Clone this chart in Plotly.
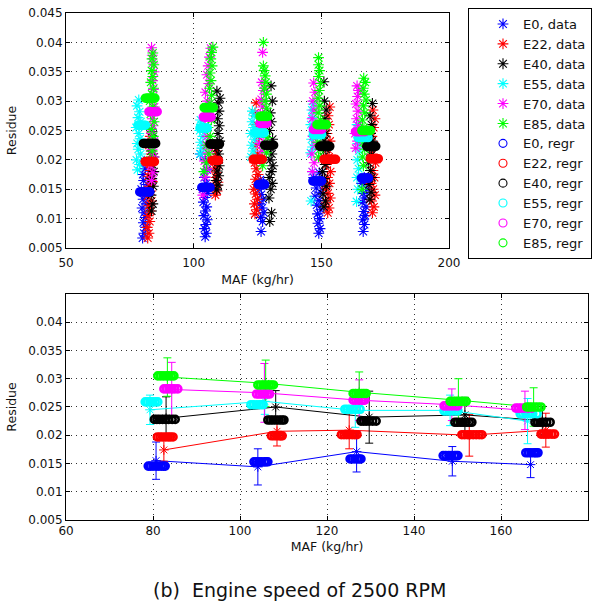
import plotly.graph_objects as go

# ---------------- data ----------------
fuels = ["E0", "E22", "E40", "E55", "E70", "E85"]
colors = ["#0000ff", "#ff0000", "#000000", "#00ffff", "#ff00ff", "#00ff00"]

# top panel: measured residues (asterisks), grouped by MAF operating point
E0_data_maf = [80.0, 80.5, 81.2, 80.3, 81.0, 80.6, 79.8, 81.4, 80.2, 80.9, 79.5, 81.8, 80.4, 80.1, 81.0, 80.6,
               104.5, 105.0, 104.2, 104.8, 105.3, 104.0, 104.6, 105.1, 103.8, 104.4, 105.5, 103.5, 104.9, 104.2, 105.2, 104.6, 102.6,
               126.4, 127.0, 126.2, 127.5, 126.8, 125.9, 127.2, 126.5, 125.6, 127.4, 126.1,
               149.0, 149.5, 148.7, 149.3, 148.5, 149.8, 148.2, 149.1, 147.5, 149.6, 148.0, 150.5, 147.0, 149.2,
               166.4, 166.9, 166.2, 167.2, 166.6, 167.5, 166.0, 167.0, 166.4, 167.8, 165.8, 166.8]
E0_data_res = [0.0067, 0.0075, 0.0085, 0.0093, 0.0102, 0.0110, 0.0118, 0.0125, 0.0133, 0.0140, 0.0150, 0.0158, 0.0165, 0.0175, 0.0185, 0.0198,
               0.0069, 0.0075, 0.0083, 0.0090, 0.0098, 0.0105, 0.0113, 0.0120, 0.0128, 0.0136, 0.0143, 0.0150, 0.0160, 0.0170, 0.0183, 0.0200, 0.0210,
               0.0078, 0.0095, 0.0102, 0.0110, 0.0118, 0.0125, 0.0133, 0.0141, 0.0150, 0.0160, 0.0166,
               0.0075, 0.0083, 0.0092, 0.0100, 0.0108, 0.0115, 0.0123, 0.0131, 0.0138, 0.0145, 0.0152, 0.0160, 0.0170, 0.0178,
               0.0078, 0.0090, 0.0098, 0.0105, 0.0112, 0.0120, 0.0128, 0.0135, 0.0143, 0.0150, 0.0160, 0.0170]

E22_data_maf = [82.0, 82.5, 81.8, 82.8, 82.2, 83.0, 82.4, 83.5, 82.0, 83.2, 82.6, 83.8, 82.3, 83.0, 82.7, 83.4, 82.5, 83.0,
                108.5, 109.2, 108.0, 109.5, 108.7, 109.0, 108.3, 109.3, 108.6, 109.0, 108.2,
                124.0, 124.6, 123.8, 125.0, 124.3, 123.5, 124.8, 124.2, 125.2, 124.5, 123.9, 125.0, 124.4, 125.3, 124.7, 124.0, 124.5,
                152.5, 153.0, 152.0, 153.5, 152.6, 151.8, 153.2, 152.4, 153.6, 152.0, 153.0, 152.5, 153.4, 152.2, 153.0, 152.6, 153.3,
                170.0, 170.6, 169.7, 171.0, 170.3, 169.5, 170.8, 170.2, 171.2, 170.0, 170.7, 169.8, 170.5, 171.0, 170.2]
E22_data_res = [0.0067, 0.0075, 0.0085, 0.0095, 0.0105, 0.0113, 0.0122, 0.0130, 0.0138, 0.0147, 0.0155, 0.0163, 0.0172, 0.0182, 0.0192, 0.0210, 0.0225, 0.0240,
                0.0140, 0.0147, 0.0155, 0.0162, 0.0170, 0.0178, 0.0186, 0.0194, 0.0205, 0.0215, 0.0222,
                0.0108, 0.0115, 0.0125, 0.0133, 0.0142, 0.0150, 0.0158, 0.0167, 0.0175, 0.0185, 0.0195, 0.0210, 0.0225, 0.0240, 0.0260, 0.0280, 0.0297,
                0.0110, 0.0118, 0.0127, 0.0135, 0.0143, 0.0152, 0.0160, 0.0170, 0.0180, 0.0192, 0.0205, 0.0218, 0.0232, 0.0245, 0.0260, 0.0275, 0.0290,
                0.0110, 0.0120, 0.0130, 0.0140, 0.0150, 0.0160, 0.0170, 0.0182, 0.0195, 0.0210, 0.0225, 0.0240, 0.0255, 0.0270, 0.0285]

E40_data_maf = [83.5, 84.0, 83.3, 84.2, 83.6, 84.4, 83.8, 84.5, 83.4, 84.1, 83.7,
                109.0, 109.5, 108.8, 109.8, 109.2, 110.0, 109.4, 109.8, 109.1, 110.2, 109.5, 110.0, 109.3, 109.9, 109.6, 110.3, 109.1,
                129.8, 130.5, 129.5, 130.2, 130.8, 129.6, 130.4, 131.0, 129.9, 130.6, 130.1, 130.9, 129.7, 130.4, 130.0, 130.8, 130.3,
                151.0, 151.6, 150.7, 151.9, 151.2, 150.5, 151.5, 150.9, 151.8, 151.1, 151.7, 150.8, 151.4, 151.9, 151.2, 151.0,
                169.0, 169.5, 168.7, 169.8, 169.2, 168.5, 169.6, 169.0, 169.9, 169.3, 169.7, 169.1, 170.0]
E40_data_res = [0.0113, 0.0125, 0.0140, 0.0155, 0.0168, 0.0180, 0.0192, 0.0205, 0.0215, 0.0235, 0.0248,
                0.0149, 0.0157, 0.0165, 0.0173, 0.0181, 0.0190, 0.0200, 0.0210, 0.0220, 0.0232, 0.0245, 0.0258, 0.0270, 0.0283, 0.0297, 0.0305, 0.0317,
                0.0095, 0.0110, 0.0135, 0.0150, 0.0160, 0.0170, 0.0180, 0.0190, 0.0200, 0.0210, 0.0220, 0.0235, 0.0250, 0.0265, 0.0280, 0.0300, 0.0326,
                0.0120, 0.0130, 0.0142, 0.0155, 0.0168, 0.0180, 0.0192, 0.0205, 0.0218, 0.0232, 0.0245, 0.0258, 0.0270, 0.0285, 0.0300, 0.0333,
                0.0133, 0.0145, 0.0158, 0.0170, 0.0182, 0.0195, 0.0208, 0.0220, 0.0232, 0.0245, 0.0260, 0.0275, 0.0296]

E55_data_maf = [78.0, 78.8, 77.6, 79.2, 78.3, 77.9, 79.0, 78.5, 77.5, 79.3, 78.2, 78.8, 77.8, 78.5,
                102.5, 103.2, 102.8, 103.6, 102.4, 103.0, 102.7,
                122.5, 123.3, 122.8, 123.8, 122.4, 123.5, 122.9, 123.6, 123.0,
                146.0, 146.5, 145.8, 146.6, 146.2, 147.0, 145.9, 146.7, 146.3, 146.8,
                163.8, 164.3, 164.0, 164.6, 164.1, 164.8, 164.3, 165.0, 164.5, 164.0]
E55_data_res = [0.0183, 0.0192, 0.0200, 0.0210, 0.0218, 0.0228, 0.0236, 0.0245, 0.0255, 0.0265, 0.0272, 0.0282, 0.0292, 0.0302,
                0.0210, 0.0220, 0.0230, 0.0240, 0.0250, 0.0260, 0.0268,
                0.0205, 0.0215, 0.0225, 0.0235, 0.0245, 0.0255, 0.0265, 0.0275, 0.0283,
                0.0130, 0.0180, 0.0212, 0.0222, 0.0235, 0.0248, 0.0260, 0.0272, 0.0285, 0.0295,
                0.0129, 0.0150, 0.0170, 0.0185, 0.0200, 0.0215, 0.0228, 0.0240, 0.0252, 0.0260]

E70_data_maf = [83.5, 84.0, 83.2, 84.3, 83.7, 84.5, 83.4, 84.1, 83.8, 84.6, 83.5, 84.2, 83.9, 84.5, 84.0, 83.8, 83.5,
                103.6, 104.5, 105.2, 104.2, 105.6, 104.8, 105.3, 104.4, 105.8, 104.9, 105.4, 104.6, 105.9, 105.2, 105.7, 106.2, 106.7,
                126.0, 126.8, 125.8, 127.2, 126.4, 127.5, 126.1, 127.0, 126.5, 127.3, 126.7, 127.0,
                146.5, 147.2, 146.3, 147.6, 146.8, 147.4, 146.4, 147.1, 146.7, 147.5, 147.0,
                163.5, 164.2, 163.2, 164.5, 163.8, 164.4, 163.6, 164.2, 164.6, 164.0]
E70_data_res = [0.0165, 0.0178, 0.0190, 0.0205, 0.0218, 0.0232, 0.0245, 0.0258, 0.0270, 0.0290, 0.0305, 0.0320, 0.0335, 0.0350, 0.0365, 0.0378, 0.0391,
                0.0140, 0.0171, 0.0185, 0.0198, 0.0212, 0.0225, 0.0240, 0.0255, 0.0270, 0.0285, 0.0300, 0.0315, 0.0330, 0.0345, 0.0360, 0.0375, 0.0390,
                0.0200, 0.0215, 0.0228, 0.0240, 0.0252, 0.0265, 0.0278, 0.0290, 0.0303, 0.0318, 0.0332, 0.0383,
                0.0180, 0.0195, 0.0210, 0.0225, 0.0240, 0.0255, 0.0270, 0.0285, 0.0300, 0.0315, 0.0331,
                0.0220, 0.0232, 0.0245, 0.0258, 0.0270, 0.0283, 0.0295, 0.0308, 0.0318, 0.0326]

E85_data_maf = [83.0, 83.8, 82.6, 84.2, 83.4, 84.5, 83.1, 84.0, 82.8, 83.6, 84.3, 83.2, 84.0, 83.5, 84.4, 83.7, 84.0,
                104.0, 105.0, 106.0, 105.2, 106.5, 105.6, 106.9, 105.8, 106.4, 107.0, 106.2, 106.8, 106.4, 107.2, 106.7, 107.0, 107.5,
                127.0, 128.5, 127.8, 128.8, 127.5, 128.4, 127.9, 128.6, 128.0, 128.5, 127.7, 128.3, 128.0, 127.6, 127.3, 127.3,
                148.9, 149.5, 148.6, 149.8, 149.0, 149.6, 148.8, 149.4, 148.7, 149.2, 149.7, 148.9, 149.3, 148.9, 148.9,
                166.0, 166.5, 166.2, 167.0, 166.4, 167.3, 166.7, 166.1, 167.0, 166.5, 167.5, 166.8, 166.4, 167.2, 166.6]
E85_data_res = [0.0200, 0.0215, 0.0228, 0.0240, 0.0252, 0.0265, 0.0278, 0.0290, 0.0300, 0.0312, 0.0322, 0.0332, 0.0342, 0.0352, 0.0362, 0.0372, 0.0382,
                0.0180, 0.0195, 0.0210, 0.0225, 0.0240, 0.0255, 0.0268, 0.0282, 0.0296, 0.0310, 0.0322, 0.0335, 0.0348, 0.0360, 0.0372, 0.0383, 0.0392,
                0.0190, 0.0212, 0.0225, 0.0238, 0.0250, 0.0262, 0.0275, 0.0288, 0.0300, 0.0312, 0.0322, 0.0332, 0.0343, 0.0352, 0.0360, 0.0400,
                0.0205, 0.0218, 0.0230, 0.0242, 0.0255, 0.0268, 0.0280, 0.0292, 0.0305, 0.0318, 0.0330, 0.0342, 0.0352, 0.0362, 0.0374,
                0.0150, 0.0190, 0.0205, 0.0218, 0.0230, 0.0243, 0.0255, 0.0268, 0.0280, 0.0292, 0.0302, 0.0312, 0.0322, 0.0332, 0.0339]

# regression predictions: MAF values per operating point and the predicted residue level
E0_regr_maf = [[78.9, 79.4, 80.0, 80.7, 81.3, 81.9, 82.4, 82.8], [103.2, 103.7, 104.3, 104.9, 105.6, 106.0, 106.4],
               [125.3, 125.8, 126.4, 127.0, 127.4, 127.8], [146.7, 147.3, 148.0, 148.6, 149.3, 149.7, 150.1],
               [165.7, 166.3, 166.9, 167.6, 168.0, 168.5]]
E0_regr_res = [0.01454, 0.0153, 0.0158, 0.0164, 0.0169]
E22_regr_maf = [[81.0, 81.6, 82.2, 82.9, 83.5, 84.0, 84.6], [107.2, 107.8, 108.4, 109.0, 109.4, 109.7],
                [123.3, 123.9, 124.5, 125.1, 125.8, 126.4, 126.9], [151.0, 151.6, 152.3, 152.9, 153.6, 154.3, 155.0, 155.6],
                [169.2, 169.8, 170.4, 171.0, 171.7, 172.3]]
E22_regr_res = [0.0197, 0.0199, 0.0201, 0.0201, 0.0202]
E40_regr_maf = [[80.3, 80.9, 81.5, 82.2, 82.9, 83.6, 84.4, 85.1], [106.4, 107.0, 107.6, 108.3, 109.0, 109.6, 110.1],
                [127.8, 128.4, 129.0, 129.7, 130.5, 131.3], [149.4, 150.0, 150.7, 151.3, 152.0, 152.7, 153.3],
                [167.8, 168.4, 169.0, 169.7, 170.5, 171.3]]
E40_regr_res = [0.0228, 0.0227, 0.0225, 0.0223, 0.0223]
E55_regr_maf = [[78.2, 78.7, 79.3, 79.9, 80.5, 81.1], [102.5, 103.1, 103.7, 104.4, 104.9, 105.3],
                [124.1, 124.7, 125.3, 126.0, 126.8, 127.6], [146.9, 147.5, 148.1, 148.8, 149.5, 150.1],
                [164.4, 165.0, 165.7, 166.4, 167.3, 168.3]]
E55_regr_res = [0.0259, 0.0254, 0.0246, 0.0243, 0.0238]
E70_regr_maf = [[82.5, 83.1, 83.7, 84.4, 85.0, 85.7], [103.8, 104.4, 105.0, 105.7, 106.3, 106.8],
                [126.0, 126.6, 127.2, 127.9, 128.3, 128.7], [146.9, 147.5, 148.1, 148.8, 149.5, 150.1],
                [163.4, 164.0, 164.6, 165.3, 166.2, 167.1]]
E70_regr_res = [0.0282, 0.0273, 0.0262, 0.0252, 0.0248]
E85_regr_maf = [[81.1, 81.7, 82.3, 83.0, 83.6, 84.2, 84.8], [104.1, 104.7, 105.3, 106.0, 106.7, 107.2, 107.7],
                [126.0, 126.6, 127.2, 127.9, 128.5, 129.0], [148.3, 148.9, 149.5, 150.1, 150.8, 151.4, 152.0],
                [165.9, 166.5, 167.1, 167.8, 168.5, 169.2]]
E85_regr_res = [0.0305, 0.0289, 0.0274, 0.0260, 0.0250]

# bottom panel: mean residue per operating point with standard-deviation bars
E0_mean_maf = [80.7, 104.1, 126.8, 148.8, 166.8]
E0_mean_res = [0.0155, 0.0144, 0.0171, 0.0154, 0.0148]
E0_mean_err = [0.0033, 0.0032, 0.0036, 0.0026, 0.0023]
E22_mean_maf = [82.5, 108.5, 125.1, 152.7, 170.3]
E22_mean_res = [0.0174, 0.0207, 0.0209, 0.0200, 0.0209]
E22_mean_err = [0.0020, 0.0026, 0.0033, 0.0037, 0.0030]
E40_mean_maf = [83.0, 108.2, 129.7, 151.7, 169.5]
E40_mean_res = [0.0230, 0.0250, 0.0232, 0.0236, 0.0226]
E40_mean_err = [0.0038, 0.0029, 0.0046, 0.0031, 0.0025]
E55_mean_maf = [79.3, 105.7, 126.5, 148.3, 166.1]
E55_mean_res = [0.0245, 0.0260, 0.0244, 0.0244, 0.0225]
E55_mean_err = [0.0026, 0.0023, 0.0030, 0.0027, 0.0040]
E70_mean_maf = [84.3, 105.6, 127.4, 148.7, 165.5]
E70_mean_res = [0.0281, 0.0275, 0.0262, 0.0254, 0.0244]
E70_mean_err = [0.0048, 0.0052, 0.0036, 0.0028, 0.0034]
E85_mean_maf = [83.3, 105.9, 127.4, 150.2, 167.5]
E85_mean_res = [0.0303, 0.0292, 0.0276, 0.0262, 0.0250]
E85_mean_err = [0.0034, 0.0041, 0.0036, 0.0038, 0.0034]

res_ticks_top = [0.005, 0.01, 0.015, 0.02, 0.025, 0.03, 0.035, 0.04, 0.045]
res_ticks_top_text = ["0.005", "0.01", "0.015", "0.02", "0.025", "0.03", "0.035", "0.04", "0.045"]
res_ticks_bot = [0.005, 0.01, 0.015, 0.02, 0.025, 0.03, 0.035, 0.04]
res_ticks_bot_text = ["0.005", "0.01", "0.015", "0.02", "0.025", "0.03", "0.035", "0.04"]
maf_ticks_top = [50, 100, 150, 200]
maf_ticks_bot = [60, 80, 100, 120, 140, 160, 180]
caption = "(b)\u00a0\u00a0Engine speed of 2500 RPM"

data_maf = [E0_data_maf, E22_data_maf, E40_data_maf, E55_data_maf, E70_data_maf, E85_data_maf]
data_res = [E0_data_res, E22_data_res, E40_data_res, E55_data_res, E70_data_res, E85_data_res]
regr_maf = [E0_regr_maf, E22_regr_maf, E40_regr_maf, E55_regr_maf, E70_regr_maf, E85_regr_maf]
regr_res = [E0_regr_res, E22_regr_res, E40_regr_res, E55_regr_res, E70_regr_res, E85_regr_res]
mean_maf = [E0_mean_maf, E22_mean_maf, E40_mean_maf, E55_mean_maf, E70_mean_maf, E85_mean_maf]
mean_res = [E0_mean_res, E22_mean_res, E40_mean_res, E55_mean_res, E70_mean_res, E85_mean_res]
mean_err = [E0_mean_err, E22_mean_err, E40_mean_err, E55_mean_err, E70_mean_err, E85_mean_err]


def expand(blobs, levels):
    xs, ys = [], []
    for b, lv in zip(blobs, levels):
        xs += b
        ys += [lv] * len(b)
    return xs, ys


FONT = "DejaVu Sans"
fig = go.Figure()
blob_marker = lambda c: dict(symbol="circle-open", size=7, color=c, line=dict(width=2.6, color=c))

# ---- top panel ----
for f, c, mx, my in zip(fuels, colors, data_maf, data_res):
    fig.add_trace(go.Scatter(
        x=mx, y=my, mode="markers", name=f + ", data", xaxis="x", yaxis="y",
        marker=dict(symbol="asterisk-open", size=9, color=c, line=dict(width=1.1, color=c))))
for f, c, bm, br in zip(fuels, colors, regr_maf, regr_res):
    xs, ys = expand(bm, br)
    fig.add_trace(go.Scatter(
        x=xs, y=ys, mode="markers", showlegend=False, xaxis="x", yaxis="y",
        marker=blob_marker(c)))
# legend entries for the regression series (thin open circles as in the key)
for f, c in zip(fuels, colors):
    fig.add_trace(go.Scatter(
        x=[None], y=[None], mode="markers", name=f + ", regr", xaxis="x", yaxis="y",
        marker=dict(symbol="circle-open", size=8, color=c, line=dict(width=1.1, color=c))))

# ---- bottom panel ----
for f, c, mx, my, me in zip(fuels, colors, mean_maf, mean_res, mean_err):
    fig.add_trace(go.Scatter(
        x=mx, y=my, mode="lines+markers", showlegend=False, xaxis="x2", yaxis="y2",
        line=dict(color=c, width=1),
        marker=dict(symbol="asterisk-open", size=8, color=c, line=dict(width=1, color=c)),
        error_y=dict(type="data", array=me, color=c, thickness=1, width=4)))
for f, c, bm, br in zip(fuels, colors, regr_maf, regr_res):
    xs, ys = expand(bm, br)
    fig.add_trace(go.Scatter(
        x=xs, y=ys, mode="markers", showlegend=False, xaxis="x2", yaxis="y2",
        marker=blob_marker(c)))

axis_common = dict(showline=True, linecolor="black", linewidth=1, mirror="ticks",
                   ticks="inside", ticklen=4, tickcolor="black",
                   showgrid=True, gridcolor="#333333", griddash="1px,4px", gridwidth=1,
                   zeroline=False, automargin=False,
                   tickfont=dict(family=FONT, size=12, color="#111111"))
title_font = dict(family=FONT, size=12.5, color="#111111")

fig.update_layout(
    width=598, height=606,
    margin=dict(l=0, r=0, t=0, b=0),
    paper_bgcolor="white", plot_bgcolor="white",
    font=dict(family=FONT, size=12, color="#111111"),
    xaxis=dict(axis_common, domain=[0.1104, 0.7508], anchor="y", range=[50, 200],
               tickvals=maf_ticks_top, ticklabelstandoff=4,
               title=dict(text="MAF (kg/hr)", font=title_font, standoff=5)),
    yaxis=dict(axis_common, domain=[0.5908, 0.9785], anchor="x", range=[0.005, 0.045],
               tickvals=res_ticks_top, ticktext=res_ticks_top_text,
               title=dict(text="Residue", font=title_font, standoff=8)),
    xaxis2=dict(axis_common, domain=[0.1104, 0.9833], anchor="y2", range=[60, 180],
                tickvals=maf_ticks_bot, title=dict(text="MAF (kg/hr)", font=title_font, standoff=4)),
    yaxis2=dict(axis_common, domain=[0.1419, 0.5149], anchor="x2", range=[0.005, 0.045],
                tickvals=res_ticks_bot, ticktext=res_ticks_bot_text,
                title=dict(text="Residue", font=title_font, standoff=8)),
    legend=dict(x=0.7826, y=0.9868, xanchor="left", yanchor="top",
                bgcolor="white", bordercolor="black", borderwidth=1,
                font=dict(family=FONT, size=13, color="#111111"),
                itemsizing="trace", indentation=14),
    annotations=[dict(text=caption, x=0.5, y=0.0264, xref="paper", yref="paper",
                      xanchor="center", yanchor="middle", showarrow=False,
                      font=dict(family=FONT, size=19, color="#111111"))],
)

fig.write_html("out.html")
